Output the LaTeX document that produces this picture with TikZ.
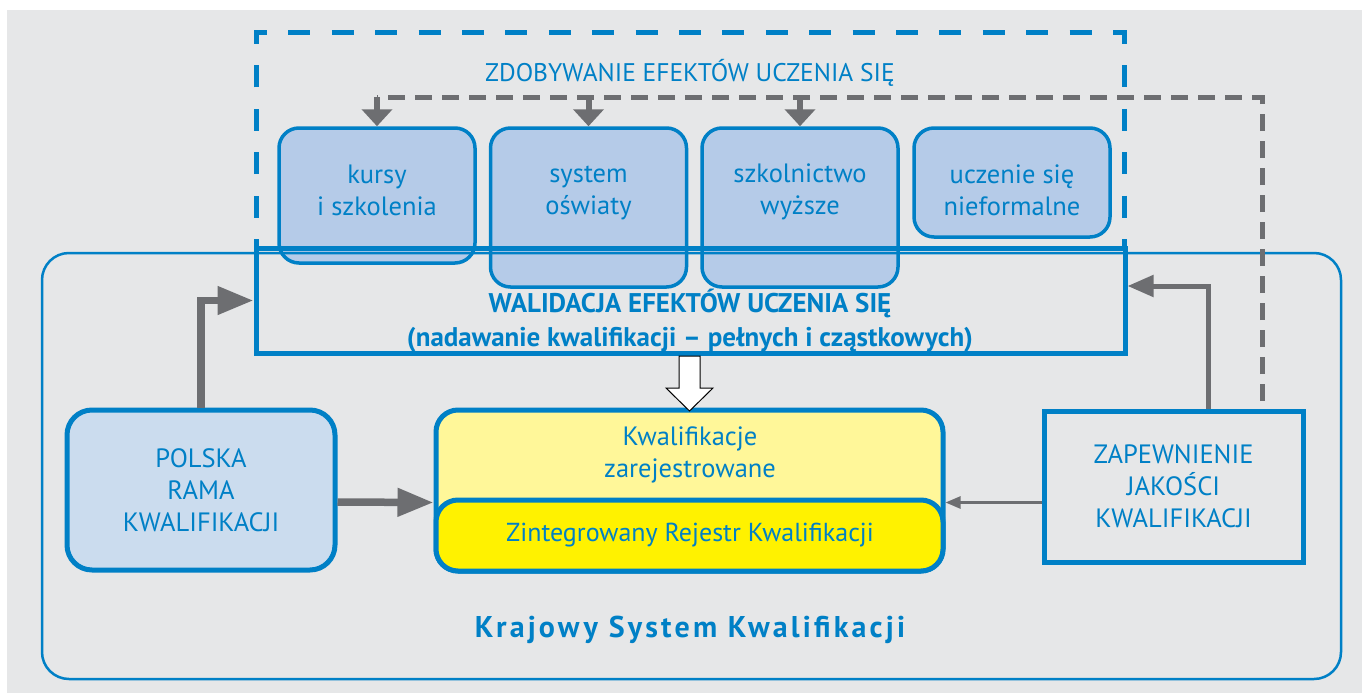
\documentclass[tikz,border=0pt]{standalone}
\usepackage{fontspec}
\setmainfont{PT Sans}
\usetikzlibrary{arrows.meta,calc}
\definecolor{kblue}{HTML}{0080C6}
\definecolor{kgray}{HTML}{6D6E71}
\definecolor{kbg}{HTML}{E6E7E8}
\definecolor{kboxfill}{HTML}{B5CBE8}
\definecolor{kprfill}{HTML}{CBDCEE}
\definecolor{kyel}{HTML}{FFF799}
\definecolor{kyeltwo}{HTML}{FFF200}
\begin{document}
\begin{tikzpicture}[x=1pt,y=-1pt,
  every node/.style={inner sep=0pt},
  txt/.style={text=kblue, align=center, font=\fontsize{26.5}{32}\selectfont},
  boldtxt/.style={text=kblue, align=center, font=\bfseries\fontsize{27}{34}\selectfont},
  topbox/.style={draw=kblue, line width=3.5pt, fill=kboxfill, rounded corners=20pt, minimum width=196pt},
  bigbox/.style={draw=kblue, line width=5pt},
  thickarrow/.style={draw=kgray, line width=7.5pt, -{Triangle[length=36pt,width=27pt]}},
  midarrow/.style={draw=kgray, line width=5pt, -{Triangle[length=26pt,width=21pt]}},
  thinarrow/.style={draw=kgray, line width=2.5pt, -{Triangle[length=15pt,width=12pt]}},
  downarrow/.style={draw=kgray, line width=6pt, -{Triangle[length=17pt,width=30pt]}},
  graydash/.style={draw=kgray, line width=5pt, dash pattern=on 17pt off 10pt},
  bluedash/.style={draw=kblue, line width=5pt, dash pattern=on 22pt off 21.4pt, dash phase=13pt}
]
\useasboundingbox (0,0) rectangle (1362,693);
\fill[kbg] (7,10) rectangle (1362,693);

% top boxes
\node[topbox, minimum height=135pt] (kursy) at (377,195.5) {};
\node[topbox, minimum height=159pt] (system) at (588.5,207.5) {};
\node[topbox, minimum height=159pt] (szkol) at (800,207.5) {};
\node[topbox, minimum height=109pt] (uczenie) at (1012,182.5) {};
\node[txt] at ([yshift=-64pt]kursy.north) {kursy\\i szkolenia};
\node[txt] at ([yshift=-67pt]system.north) {system\\oświaty};
\node[txt] at ([yshift=-65.5pt]szkol.north) {szkolnictwo\\wyższe};
\node[txt] at ([yshift=-64pt]uczenie.north) {uczenie się\\nieformalne};

% outer frame
\node[draw=kblue, line width=2.5pt, rounded corners=27pt, minimum width=1299pt, minimum height=426pt] (ksk) at (691.5,466) {};
\node[text=kblue, font=\bfseries\fontsize{30}{34}\selectfont\addfontfeature{LetterSpace=10.5}] (ksktitle) at (690,630) {Krajowy System Kwalifikacji};

% blue dashed frame
\draw[bluedash] (256,248) -- (256,33) -- (1124,33) -- (1124,248);
\node[txt, font=\fontsize{25.5}{30}\selectfont] (zdob) at (690,73) {ZDOBYWANIE EFEKTÓW UCZENIA SIĘ};

% walidacja
\node[bigbox, minimum width=869pt, minimum height=105pt] (walid) at (690.5,300.5) {};
\node[boldtxt] at (690,321) {WALIDACJA EFEKTÓW UCZENIA SIĘ\\(nadawanie kwalifikacji – pełnych i cząstkowych)};

% yellow boxes
\node[bigbox, fill=kyel, rounded corners=22pt, minimum width=507pt, minimum height=161pt] (kz) at (689.5,490.5) {};
\node[bigbox, fill=kyeltwo, rounded corners=22pt, minimum width=507pt, minimum height=71pt] (zr) at (689.5,535.5) {};
\node[txt] at (690,455) {Kwalifikacje\\zarejestrowane};
\node[txt, font=\fontsize{26}{32}\selectfont] at (690,535) {Zintegrowany Rejestr Kwalifikacji};

% polska rama
\node[bigbox, fill=kprfill, rounded corners=25pt, minimum width=268pt, minimum height=160pt, txt] (prk) at (201,490) {POLSKA\\RAMA\\KWALIFIKACJI};
% zapewnienie
\node[bigbox, minimum width=259pt, minimum height=151pt, txt] (zap) at (1173.5,486.5) {ZAPEWNIENIE\\JAKOŚCI\\KWALIFIKACJI};

% white block arrow
\draw[black, line width=1pt, fill=white] (679,356) -- (700,356) -- (700,388) -- (713,388) -- (689.5,411) -- (666,388) -- (679,388) -- cycle;

% gray arrows
\draw[thickarrow] (prk.north) |- (walid.west);
\draw[thickarrow] ([yshift=-12pt]prk.east) -- ([yshift=-12pt]kz.west);
\draw[thinarrow] ([yshift=-16pt]zap.west) -- ([yshift=-12pt]kz.east);
\draw[midarrow] ([xshift=34.5pt]zap.north) |- ([yshift=14.5pt]walid.east);

% gray dashed feedback
\coordinate (fbcorner) at ($(kursy.north)+(0,-29)$);
\draw[graydash, dash phase=19.5pt] ([xshift=88.5pt]zap.north) |- (fbcorner);
\draw[downarrow] (fbcorner) -- (kursy.north);
\draw[downarrow] (fbcorner -| system.north) -- (system.north);
\draw[downarrow] (fbcorner -| szkol.north) -- (szkol.north);
\end{tikzpicture}
\end{document}
